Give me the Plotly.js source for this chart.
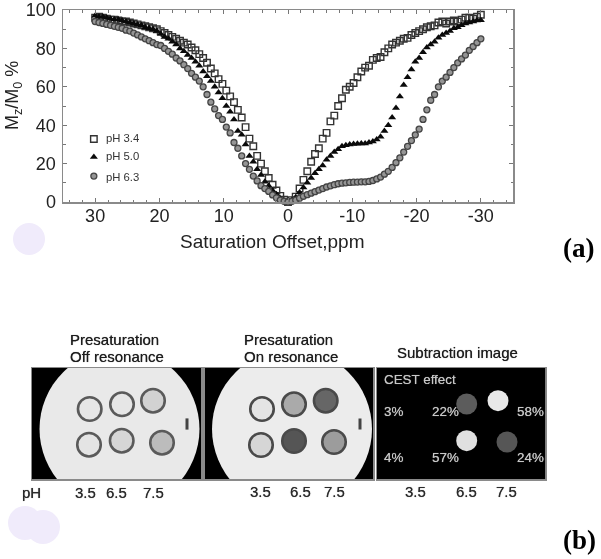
<!DOCTYPE html>
<html>
<head>
<meta charset="utf-8">
<script src="https://cdn.plot.ly/plotly-3.0.1.min.js"></script>
<style>html,body{margin:0;padding:0;background:#fff}#g{width:601px;height:559px;filter:blur(0.35px)}</style>
</head>
<body>
<div id="g"></div>
<script>
// ---- panel (a) data ----
const offsets = [30,29.4,28.8,28.2,27.6,27,26.4,25.8,25.2,24.6,24,23.4,22.8,22.2,21.6,21,20.4,19.8,19.2,18.6,18,17.4,16.8,16.2,15.6,15,14.4,13.8,13.2,12.6,12,11.4,10.8,10.2,9.6,9,8.4,7.8,7.2,6.6,6,5.4,4.8,4.2,3.6,3,2.4,1.8,1.2,0.6,0,
-0.6,-1.2,-1.8,-2.4,-3,-3.6,-4.2,-4.8,-5.4,-6,-6.6,-7.2,-7.8,-8.4,-9,-9.6,-10.2,-10.8,-11.4,-12,-12.6,-13.2,-13.8,-14.4,-15,-15.6,-16.2,-16.8,-17.4,-18,-18.6,-19.2,-19.8,-20.4,-21,-21.6,-22.2,-22.8,-23.4,-24,-24.6,-25.2,-25.8,-26.4,-27,-27.6,-28.2,-28.8,-29.4,-30];
const pH34 = [96,96.5,96,95.5,95,95,94.5,94,94,93.5,93,92.5,92,91.5,91,90.5,90,89,88,87,86,85,84,83,82,80.5,79,77,75,72.5,69.5,67,64,61.5,58,55,52,48,44,39,33,29,24,20,16,12.5,9,6,3.2,1.2,0,
1,2.8,7,11.5,16,21,25,28,33,36,42,45,50,54,58.5,60,62,65,68,70,71,74,75,75.5,78,80,82,83,84,85,85.5,87,88,89,90,91,91.5,92,93.5,94,93,94,94.5,94,95,96,96,95.5,96.5,97.5];
const pH50 = [97,96.5,96.5,96,95.5,95,95,94.5,94,93.5,93,92.5,92,91,90.5,90,89,87.5,86,85,83.5,82,80,78.5,76.5,75,73,71,68,65.5,63,60,57,54,50,47,43,37,35,30,24,21,17,14,10.5,8.5,6,4,1.8,0.6,0,
1,2.5,5,7.5,10,12.5,15,17,19,22,24,26,27.5,29,29.5,30,30.2,30.3,30.5,30.5,31,31.5,32.5,34,37,40,44,49,55,61,65,69,73,75,78,80.5,82,83.5,85.5,87,88,89,90.5,91,92,93,93.5,94,94.5,94.7];
const pH63 = [94,93.5,93,92.5,92,91.5,91,90.5,89.5,89,88,87,86,85,84,83,82,81.5,80,78.5,77,75,73.5,71.5,69.5,67,65,63,60,56,52,48.5,45,43,39,36,31,28,24,20,17,13.5,11,8.5,7,5.5,3.7,2.2,1,0.4,0,
0.4,1,2,3,3.8,4.6,5.4,6.2,7,7.8,8.4,9,9.5,9.8,10,10.2,10.3,10.4,10.5,10.5,10.7,11.2,12,13,14.5,16,18,20.5,23,26,29,32,35,38,43,48,53,56,60,63,65,67.5,70,72.5,74.5,76.5,79,81,83,85];
const seriesNames = ['pH 3.4','pH 5.0','pH 6.3'];
const keyX = [30.2,30.2,30.2];
const keyY = [32.8,23.4,13.5];
const xTickVals = [30,20,10,0,-10,-20,-30];
const xTickText = ['30','20','10','0','-10','-20','-30'];
const yTickVals = [0,20,40,60,80,100];

// ---- panel (b) data (positions in image pixels) ----
const discX = [119.5, 292];
const discY = [429, 429];
const discGrey = ['#e9e9e9', '#ececec'];
const offX = [89.7,122,153,89,121.7,162];
const offY = [409,404.3,400.7,444.7,440.7,442.7];
const offGrey = ['#e6e6e6','#e6e6e6','#d2d2d2','#e4e4e4','#d6d6d6','#bcbcbc'];
const onX = [262,294,325.7,261,294,334];
const onY = [409,404.3,400.7,445,441,442];
const onGrey = ['#e4e4e4','#aaaaaa','#666666','#d6d6d6','#555555','#9c9c9c'];
const subX = [466.7,498,466.7,507];
const subY = [404,400.7,440.7,442];
const subGrey = ['#5c5c5c','#e8e8e8','#e0e0e0','#565656'];
const markX = [187,360];
const markY = [424,424];
const titleLines = ['Presaturation','Off resonance','Presaturation','On resonance','Subtraction image'];
const titleX = [68,68,242,242,395];
const titleY = [339,356,339,356,352.5];
const pHLabels = ['pH','3.5','6.5','7.5','3.5','6.5','7.5','3.5','6.5','7.5'];
const pHLabelX = [31,85,116,153,260,300,335,415,466,506];
const cestLabels = ['CEST effect','3%','22%','58%','4%','57%','24%'];
const cestX = [382,382,430,515,382,430,515];
const cestY = [379,411,411,411,457,457,457];

const W = 601, H = 559;
const dx = (a,b)=>[a/W,b/W];
const dy = (t,b)=>[1-b/H,1-t/H];
const font = 'Liberation Sans, Arial, sans-serif';

function hiddenAxis(range, domain, anchor){
  return {range, domain, anchor, showticklabels:false, ticks:'', showgrid:false, zeroline:false,
          showline:true, linecolor:'#8a8a8a', linewidth:1.5, mirror:true, fixedrange:true};
}
const squareMarker = {symbol:'square-open',size:6.5,color:'#333',line:{width:1.4,color:'#333'}};
const triangleMarker = {symbol:'triangle-up',size:7,color:'#0a0a0a',line:{width:0}};
const circleMarker = {symbol:'circle',size:6,color:'#959595',line:{width:1.3,color:'#444'}};
const traces = [
 {x:offsets,y:pH34,name:seriesNames[0],mode:'markers',cliponaxis:false,showlegend:false,marker:squareMarker},
 {x:offsets,y:pH50,name:seriesNames[1],mode:'markers',cliponaxis:false,showlegend:false,marker:triangleMarker},
 {x:offsets,y:pH63,name:seriesNames[2],mode:'markers',cliponaxis:false,showlegend:false,marker:circleMarker},
 {x:[keyX[0]],y:[keyY[0]],mode:'markers',showlegend:false,hoverinfo:'skip',marker:squareMarker},
 {x:[keyX[1]],y:[keyY[1]],mode:'markers',showlegend:false,hoverinfo:'skip',marker:triangleMarker},
 {x:[keyX[2]],y:[keyY[2]],mode:'markers',showlegend:false,hoverinfo:'skip',marker:circleMarker},
];
function ringTrace(xs,ys,greys,xa,ya,size,lw,lc){
  return {x:xs,y:ys,xaxis:xa,yaxis:ya,mode:'markers',showlegend:false,hoverinfo:'skip',
          marker:{symbol:'circle',size:size,color:greys,line:{width:lw,color:lc}}};
}
traces.push(ringTrace([discX[0]],[discY[0]],[discGrey[0]],'x2','y2',160,0,'#000'));
traces.push(ringTrace(offX,offY,offGrey,'x2','y2',23.5,2.6,'#5a5a5a'));
traces.push(ringTrace([discX[1]],[discY[1]],[discGrey[1]],'x3','y3',160,0,'#000'));
traces.push(ringTrace(onX,onY,onGrey,'x3','y3',23.5,2.6,'#4a4a4a'));
traces.push(ringTrace(subX,subY,subGrey,'x4','y4',21,0,'#000'));
traces.push({x:[markX[0]],y:[markY[0]],xaxis:'x2',yaxis:'y2',mode:'markers',showlegend:false,hoverinfo:'skip',
  marker:{symbol:'line-ns',size:8,line:{width:3,color:'#444'}}});
traces.push({x:[markX[1]],y:[markY[1]],xaxis:'x3',yaxis:'y3',mode:'markers',showlegend:false,hoverinfo:'skip',
  marker:{symbol:'line-ns',size:8,line:{width:3,color:'#444'}}});

const ann = [];
function px(text,x,y,f,opts){
  ann.push(Object.assign({text,x:x/W,y:1-y/H,xref:'paper',yref:'paper',showarrow:false,
    xanchor:'center',yanchor:'middle',align:'center',font:f},opts||{}));
}
const heavy = {family:font,size:15,color:'#1c1c1c',shadow:'0 0 0.7px rgba(0,0,0,0.8)'};
titleLines.forEach((t,i)=>px(t,titleX[i],titleY[i],heavy,{xanchor:'left'}));
pHLabels.forEach((t,i)=>px(t,pHLabelX[i],i<4?492.5:491,Object.assign({},heavy,{color:'#2a2a2a'})));
cestLabels.forEach((t,i)=>px(t,cestX[i],cestY[i],{family:font,size:13.4,color:'#c8c8c8',shadow:'0 0 0.7px rgba(200,200,200,0.9)'},{xanchor:'left'}));
seriesNames.forEach((t,i)=>px(t,104,[138,156,177][i],{family:font,size:11.3,color:'#333'},{xanchor:'left'}));
px('Saturation Offset,ppm',272,241,{family:font,size:19,color:'#222'});
px('M<sub>z</sub>/M<sub>0</sub> %',13,96,{family:font,size:18,color:'#222'},{textangle:-90});
px('(a)',578.5,248,{family:'Liberation Serif, serif',size:27,color:'#000',weight:700});
px('(b)',579,540,{family:'Liberation Serif, serif',size:27,color:'#000',weight:700});

function blob(cx,cy,r){
  return {type:'circle',xref:'paper',yref:'paper',layer:'below',fillcolor:'#f0ebfb',line:{width:0},
    x0:(cx-r)/W,x1:(cx+r)/W,y0:1-(cy+r)/H,y1:1-(cy-r)/H};
}
function blackPanel(n){
  return {type:'rect',xref:'x'+n+' domain',yref:'y'+n+' domain',layer:'below',x0:0,x1:1,y0:0,y1:1,
    fillcolor:'#000',line:{width:0}};
}
const layout = {
  width:W,height:H,margin:{l:0,r:0,t:0,b:0},paper_bgcolor:'#fff',plot_bgcolor:'rgba(0,0,0,0)',
  font:{family:font,color:'#222'},
  showlegend:false,
  xaxis:{domain:dx(63,513),anchor:'y',range:[35,-35],tickmode:'array',tickvals:xTickVals,ticktext:xTickText,
    ticks:'inside',ticklen:4,tickwidth:1,tickcolor:'#777',showline:true,linecolor:'#8a8a8a',linewidth:1.5,mirror:'ticks',
    showgrid:false,zeroline:false,tickfont:{family:font,size:18,color:'#222'},ticklabelstandoff:-3,
    minor:{tickmode:'linear',tick0:0,dtick:2,ticks:'inside',ticklen:2.5,tickwidth:1,tickcolor:'#777',showgrid:false}},
  yaxis:{domain:dy(10,202),anchor:'x',range:[0,100],tickmode:'array',tickvals:yTickVals,
    ticks:'inside',ticklen:4,tickwidth:1,tickcolor:'#777',showline:true,linecolor:'#8a8a8a',linewidth:1.5,mirror:'ticks',
    showgrid:false,zeroline:false,tickfont:{family:font,size:18,color:'#222'},ticklabelstandoff:2,
    minor:{tickmode:'linear',tick0:0,dtick:10,ticks:'inside',ticklen:2.5,tickwidth:1,tickcolor:'#777',showgrid:false}},
  xaxis2:hiddenAxis([32,201],dx(32,201),'y2'),
  yaxis2:hiddenAxis([479,368],dy(368,479),'x2'),
  xaxis3:hiddenAxis([204.5,373],dx(204.5,373),'y3'),
  yaxis3:hiddenAxis([479,368],dy(368,479),'x3'),
  xaxis4:hiddenAxis([377,545.5],dx(377,545.5),'y4'),
  yaxis4:hiddenAxis([479,368],dy(368,479),'x4'),
  annotations:ann,
  shapes:[blob(29,239,16),blob(25,523,17),blob(43,527,17),blackPanel(2),blackPanel(3),blackPanel(4)]
};
Plotly.newPlot('g',traces,layout,{displayModeBar:false,staticPlot:true});
</script>
</body>
</html>
